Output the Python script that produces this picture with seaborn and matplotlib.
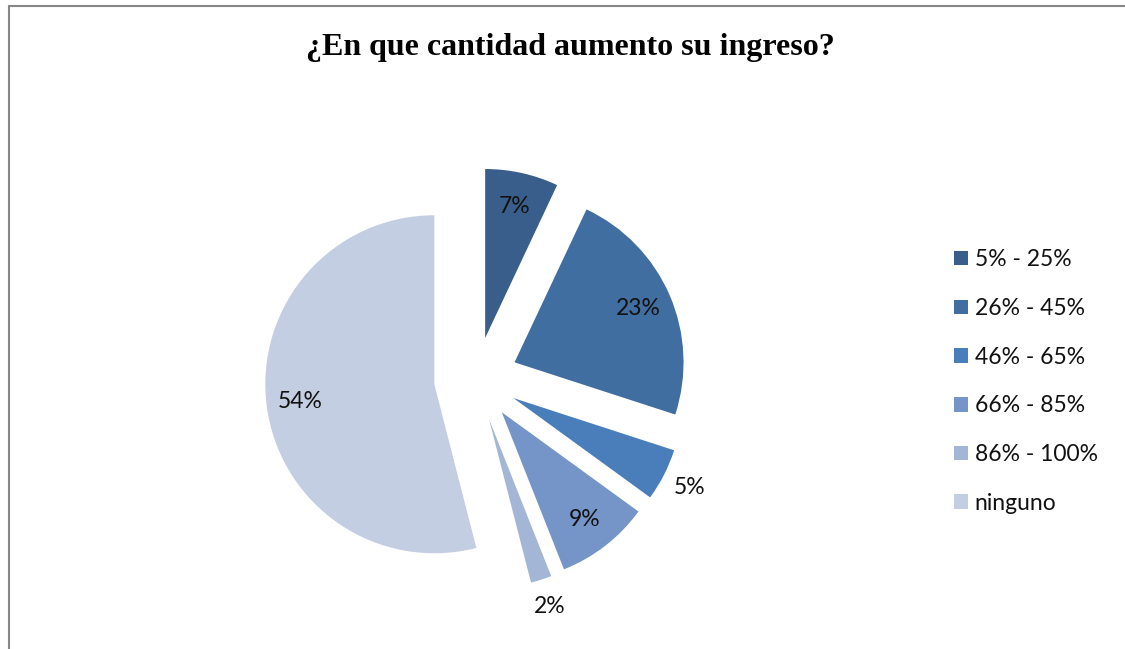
import numpy as np
import matplotlib
matplotlib.use("Agg")
import matplotlib.pyplot as plt
from matplotlib.lines import Line2D
from matplotlib.patches import Patch
import seaborn as sns

categories = ["5% - 25%", "26% - 45%", "46% - 65%", "66% - 85%", "86% - 100%", "ninguno"]
values = [7, 23, 5, 9, 2, 54]
colors = ["#3A5E8C", "#416EA0", "#4A7EBB", "#7594C8", "#A4B6D6", "#C4CEE2"]
title = "¿En que cantidad aumento su ingreso?"

sns.set_theme(style="white")
plt.rcParams["font.family"] = ["Lato", "DejaVu Sans"]

W, H = 1125, 649
fig = plt.figure(figsize=(W / 100, H / 100), dpi=100)
ax = fig.add_axes([0, 0, 1, 1])

R = 169
gap = 42
cx, cy = 476, H - 379
explode = [gap] * len(values)
wedges, texts, autotexts = ax.pie(
    values, colors=colors, startangle=90, counterclock=False,
    explode=explode, radius=R, center=(cx, cy),
    autopct=lambda p: f"{p:.0f}%", pctdistance=0.8,
    wedgeprops=dict(linewidth=0), textprops=dict(fontsize=16.5, color="#111111"),
)
for w, t, v in zip(wedges, autotexts, values):
    if v < 6:
        ang = np.deg2rad((w.theta1 + w.theta2) / 2)
        wx, wy = w.center
        d = R * 1.17
        t.set_position((wx + d * np.cos(ang), wy + d * np.sin(ang)))

ax.set_xlim(0, W)
ax.set_ylim(0, H)
ax.set_aspect("equal")
ax.axis("off")

fig.text(570 / W, 1 - 47 / H, title, ha="center", va="center", color="black",
         fontsize=23, fontweight="bold", family=["Liberation Serif", "DejaVu Serif"])

handles = [Patch(facecolor=c, edgecolor="none") for c in colors]
fig.legend(handles, categories, loc="upper left", bbox_to_anchor=(945 / W, 1 - 240 / H),
           frameon=False, fontsize=16.5, labelspacing=1.21, handlelength=0.6,
           handleheight=0.6, handletextpad=0.3, borderaxespad=0, labelcolor="#111111")

fig.add_artist(Line2D([9 / W, 9 / W], [0, 1 - 6 / H], color="#878787", lw=1.5))
fig.add_artist(Line2D([9 / W, 1], [1 - 6 / H, 1 - 6 / H], color="#878787", lw=1.5))

fig.savefig("out.png", dpi=100)
